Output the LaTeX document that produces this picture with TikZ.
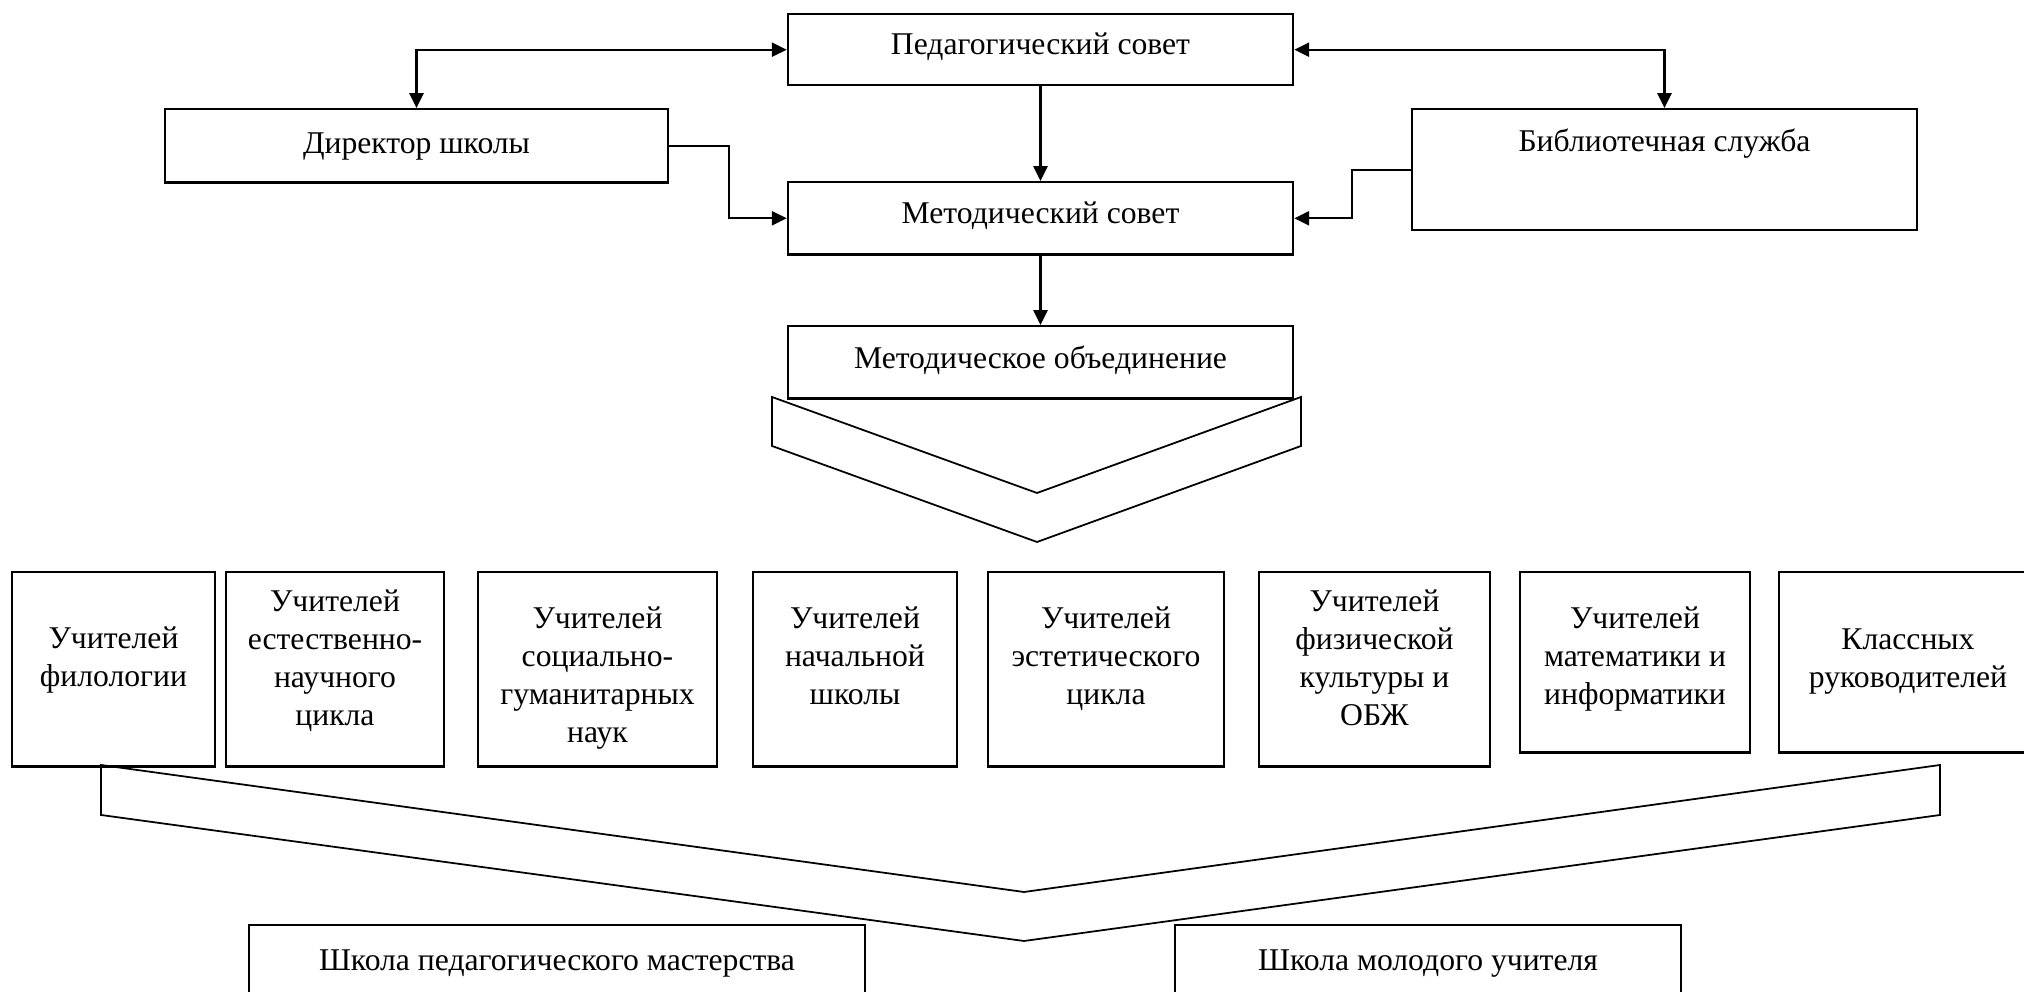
\documentclass[tikz,border=0pt]{standalone}
\usepackage{fontspec}
\setmainfont{Liberation Serif}
\usetikzlibrary{arrows.meta}
\tikzset{box/.style={draw,line width=0.7pt,inner xsep=0pt,inner ysep=0pt,anchor=north,align=flush center,font=\fontsize{9}{10.8}\selectfont},
arr/.style={line width=0.6pt},>={Triangle[length=4.2pt,width=4pt]}}
\begin{document}
\begin{tikzpicture}[x=0.01cm,y=-0.01cm]
\useasboundingbox(0,0)rectangle(2024,992);
\clip(0,0)rectangle(2024,992);
\node[box,minimum width=5.05cm,text height=11.5pt,text depth=8.7pt](ped)at(1040.5,13){Педагогический совет};
\node[box,minimum width=5.03cm,text height=12.7pt,text depth=8.1pt](dir)at(416.5,108){Директор школы};
\node[box,minimum width=5.05cm,text height=12.1pt,text depth=22.3pt](lib)at(1664.5,108){Библиотечная служба};
\node[box,minimum width=5.05cm,text height=11.8pt,text depth=8.7pt](mc)at(1040.5,181){Методический совет};
\node[box,minimum width=5.05cm,text height=12.1pt,text depth=8.4pt](mo)at(1040.5,325){Методическое объединение};
\draw[arr,<->](dir.north)|-(ped.west);
\draw[arr,<->](ped.east)-|(lib.north);
\draw[arr,->](ped)--(mc);
\draw[arr,->](mc)--(mo);
\draw[arr,->](dir.east)--++(60,0)|-(mc.west);
\draw[arr,->](lib.west)--++(-59,0)|-(mc.east);
\draw[line width=0.5pt](772,397)--(1037,493)--(1301,397)--(1301,446)--(1037,542)--(772,446)--cycle;
\foreach \n/\c/\w/\th/\td/\t in {1/113.5/2.03/21.6/33.6/{Учителей\\филологии},
2/335/2.18/11.1/44.1/{Учителей\\естественно-\\научного\\цикла},
3/597.5/2.39/15.9/39.3/{Учителей\\социально-\\гуманитарных\\наук},
4/855/2.04/15.9/39.3/{Учителей\\начальной\\школы},
5/1106/2.36/15.9/39.3/{Учителей\\эстетического\\цикла},
6/1374.5/2.31/11.1/44.1/{Учителей\\физической\\культуры и\\ОБЖ},
7/1635/2.30/15.9/35.3/{Учителей\\математики и\\информатики},
8/1908/2.58/21.9/29.3/{Классных\\руководителей}}
\node[box,text width=\w cm,text height=\th pt,text depth=\td pt](t\n)at(\c,571){\t};
\draw[line width=0.5pt](101,765)--(1024,892)--(1940,765)--(1940,815)--(1024,941)--(101,815)--cycle;
\node[box,minimum width=6.16cm,text height=12.9pt,text depth=7.5pt](s1)at(557,924){Школа педагогического мастерства};
\node[box,minimum width=5.06cm,text height=12.9pt,text depth=7.5pt](s2)at(1428,924){Школа молодого учителя};
\end{tikzpicture}
\end{document}
